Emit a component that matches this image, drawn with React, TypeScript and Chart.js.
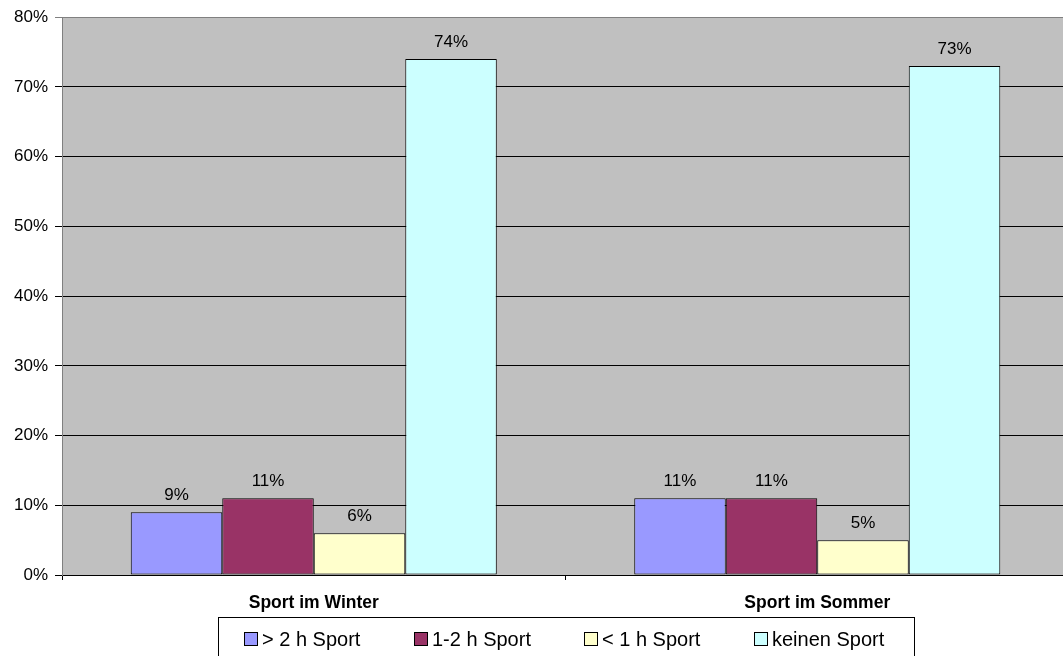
import React, { useEffect, useRef } from "react";
import { Chart, registerables } from "chart.js";

Chart.register(...registerables);

const categories = ["Sport im Winter", "Sport im Sommer"];
const seriesLabels = ["> 2 h Sport", "1-2 h Sport", "< 1 h Sport", "keinen Sport"];
const over2h = [9, 11];
const oneTo2h = [11, 11];
const under1h = [6, 5];
const noSport = [74, 73];
const seriesColors = ["#9999FF", "#993366", "#FFFFCC", "#CCFFFF"];
const yMin = 0;
const yMax = 80;
const yStep = 10;

const FONT = "Arial, 'Liberation Sans', sans-serif";

export default function App() {
  const ref = useRef<HTMLCanvasElement | null>(null);

  useEffect(() => {
    document.body.style.margin = "0";
    document.body.style.overflow = "hidden";
    const canvas = ref.current;
    if (!canvas) return;

    const bgPlugin = {
      id: "bgPlugin",
      beforeDraw(chart: any) {
        const { ctx, chartArea } = chart;
        ctx.save();
        ctx.fillStyle = "#C0C0C0";
        ctx.fillRect(chartArea.left, chartArea.top, chartArea.right - chartArea.left, chartArea.bottom - chartArea.top);
        ctx.restore();
      },
    };

    const valueLabels = {
      id: "valueLabels",
      afterDatasetsDraw(chart: any) {
        const { ctx } = chart;
        ctx.save();
        ctx.font = `17px ${FONT}`;
        ctx.fillStyle = "#000";
        ctx.textAlign = "center";
        ctx.textBaseline = "alphabetic";
        chart.data.datasets.forEach((ds: any, i: number) => {
          const meta = chart.getDatasetMeta(i);
          meta.data.forEach((bar: any, j: number) => {
            ctx.fillText(`${ds.data[j]}%`, bar.x, bar.y - 12);
          });
        });
        ctx.restore();
      },
    };

    const boxLegend = {
      id: "boxLegend",
      afterDraw(chart: any) {
        const { ctx, chartArea } = chart;
        const cx = (chartArea.left + chartArea.right) / 2;
        const pitch = 170;
        const boxW = 696;
        const left = Math.round(cx - boxW / 2) + 0.5;
        const top = 617.5;
        ctx.save();
        ctx.strokeStyle = "#000";
        ctx.lineWidth = 1;
        ctx.fillStyle = "#fff";
        ctx.fillRect(left, top, boxW, 50);
        ctx.strokeRect(left, top, boxW, 50);
        ctx.font = `20px ${FONT}`;
        ctx.textBaseline = "middle";
        ctx.textAlign = "left";
        const n = chart.data.datasets.length;
        const startX = cx - (pitch * (n - 1) + 133) / 2;
        chart.data.datasets.forEach((ds: any, i: number) => {
          const x = Math.round(startX + i * pitch);
          const y = 632;
          ctx.fillStyle = ds.backgroundColor;
          ctx.fillRect(x + 0.5, y + 0.5, 13, 13);
          ctx.strokeStyle = "#000";
          ctx.strokeRect(x + 0.5, y + 0.5, 13, 13);
          ctx.fillStyle = "#000";
          ctx.fillText(ds.label, x + 18, y + 8);
        });
        ctx.restore();
      },
    };

    const chart = new Chart(canvas, {
      type: "bar",
      data: {
        labels: categories,
        datasets: [over2h, oneTo2h, under1h, noSport].map((d, i) => ({
          label: seriesLabels[i],
          data: d,
          backgroundColor: seriesColors[i],
          borderColor: "#000",
          borderWidth: 1,
          borderSkipped: false,
          categoryPercentage: 0.727,
          barPercentage: 1.0,
        })),
      },
      options: {
        responsive: false,
        animation: false,
        layout: { padding: { top: 6, left: 7, right: 0, bottom: 29 } },
        plugins: {
          legend: { display: false },
          tooltip: { enabled: false },
        },
        scales: {
          x: {
            grid: {
              display: true,
              drawOnChartArea: false,
              drawTicks: true,
              tickLength: 5,
              offset: true,
              color: "#000",
            },
            border: { display: true, color: "#000" },
            ticks: {
              color: "#000",
              font: { family: FONT, size: 17.5, weight: "bold" },
              padding: 13,
            },
          },
          y: {
            min: yMin,
            max: yMax,
            grid: {
              color: (c: any) => (c.tick && c.tick.value === yMax ? "#808080" : "#000"),
              tickLength: 7,
              drawTicks: true,
            },
            border: { display: true, color: "#808080" },
            ticks: {
              stepSize: yStep,
              color: "#000",
              font: { family: FONT, size: 17 },
              padding: 7,
              callback: (v: any) => `${v}%`,
            },
          },
        },
      },
      plugins: [bgPlugin, valueLabels, boxLegend],
    });

    return () => chart.destroy();
  }, []);

  return (
    <div style={{ width: 1063, height: 656, overflow: "hidden" }}>
      <canvas ref={ref} width={1069} height={656} style={{ display: "block" }} />
    </div>
  );
}
